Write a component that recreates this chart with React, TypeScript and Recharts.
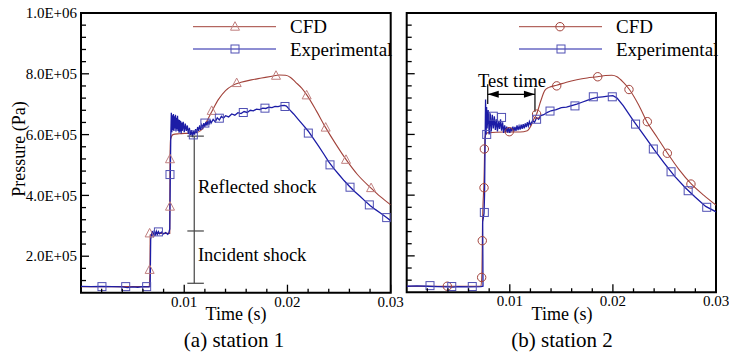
import React from 'react';
import {
  ComposedChart,
  Line,
  XAxis,
  YAxis,
  ReferenceArea,
  ReferenceLine,
  ReferenceDot,
  Legend,
} from 'recharts';

const FONT = '"Liberation Serif", "Times New Roman", serif';
const BLUE = '#1c1ca6';
const BROWN = '#a2433b';
const TRI = '#c07f7f';
const SQ = '#5050b4';

// ---------- data: [time (s), pressure (Pa)] ----------
const leftExp: [number, number][] = [
  [0, 101000], [0.001, 100000], [0.002, 101000], [0.003, 100000], [0.004, 99000], [0.0045, 97000],
  [0.005, 99000], [0.0055, 98000], [0.006, 100000], [0.0066, 99000], [0.0067, 100000], [0.00675, 255000],
  [0.0069, 283000], [0.007, 262000], [0.0071, 285000], [0.0072, 268000], [0.0073, 282000], [0.0074, 272000],
  [0.0075, 281000], [0.0076, 274000], [0.0078, 279000], [0.008, 273000], [0.0082, 278000], [0.0084, 272000],
  [0.0085, 276000], [0.0086, 290000], [0.00865, 470000], [0.0087, 600000], [0.00875, 672000], [0.0088, 608000],
  [0.00885, 664000], [0.0089, 615000], [0.00895, 668000], [0.009, 612000], [0.00905, 660000], [0.0091, 620000],
  [0.00915, 665000], [0.0092, 610000], [0.00925, 655000], [0.0093, 618000], [0.00935, 662000], [0.0094, 612000],
  [0.00945, 650000], [0.0095, 606000], [0.00955, 648000], [0.0096, 610000], [0.00965, 645000], [0.0097, 604000],
  [0.00975, 640000], [0.0098, 612000], [0.0099, 642000], [0.01, 608000], [0.0101, 636000], [0.0102, 612000],
  [0.0103, 630000], [0.0104, 602000], [0.0105, 622000], [0.0106, 598000], [0.0107, 615000], [0.0108, 592000],
  [0.0109, 612000], [0.011, 600000], [0.0111, 618000], [0.0112, 605000], [0.0113, 625000], [0.0114, 612000],
  [0.0115, 630000], [0.0116, 616000], [0.0117, 632000], [0.0118, 622000], [0.0119, 638000], [0.012, 626000],
  [0.0121, 642000], [0.0122, 630000], [0.0123, 645000], [0.0124, 633000], [0.0125, 648000], [0.0126, 638000],
  [0.0128, 650000], [0.013, 642000], [0.0132, 655000], [0.0134, 648000], [0.0136, 660000], [0.0138, 654000],
  [0.014, 662000], [0.0143, 658000], [0.0146, 668000], [0.0149, 664000], [0.0152, 672000], [0.0155, 669000],
  [0.0158, 676000], [0.0161, 673000], [0.0164, 680000], [0.0167, 678000], [0.017, 684000], [0.0173, 682000],
  [0.0176, 687000], [0.0179, 686000], [0.0182, 690000], [0.0185, 689000], [0.0188, 693000], [0.0191, 692000],
  [0.0194, 695000], [0.0197, 696000], [0.0199, 694000], [0.0202, 682000], [0.0206, 668000], [0.021, 652000],
  [0.0215, 632000], [0.022, 612000], [0.0225, 588000], [0.023, 563000], [0.0235, 537000], [0.024, 510000],
  [0.0245, 488000], [0.025, 468000], [0.0255, 448000], [0.026, 430000], [0.0265, 413000], [0.027, 398000],
  [0.0275, 382000], [0.028, 367000], [0.0285, 354000], [0.029, 342000], [0.0295, 330000], [0.03, 317000],
];

const leftCfd: [number, number][] = [
  [0, 100000], [0.0066, 100000], [0.00668, 150000], [0.0067, 270000], [0.0069, 272000], [0.0072, 275000],
  [0.0086, 275000], [0.00862, 520000], [0.00868, 585000], [0.0089, 600000], [0.0095, 603000], [0.0105, 605000],
  [0.0113, 608000], [0.0118, 620000], [0.0122, 645000], [0.0127, 678000], [0.0133, 715000], [0.014, 745000],
  [0.0147, 762000], [0.0155, 772000], [0.0165, 780000], [0.0175, 786000], [0.0185, 792000], [0.0192, 796000],
  [0.0198, 795000], [0.0203, 788000], [0.0208, 772000], [0.0214, 752000], [0.0219, 729000], [0.0228, 678000],
  [0.0237, 623000], [0.0247, 568000], [0.0257, 517000], [0.0268, 468000], [0.0281, 424000], [0.029, 396000],
  [0.03, 369000],
];

const leftCfdMarks: [number, number][] = [
  [0.00665, 155000], [0.00665, 275000], [0.00862, 363000], [0.00862, 519000], [0.01266, 678000],
  [0.01508, 769500], [0.01889, 793600], [0.02186, 729000], [0.0237, 623000], [0.02567, 517000], [0.0281, 424000],
];

const leftExpMarks: [number, number][] = [
  [0.00203, 100000], [0.00433, 100000], [0.00636, 100000], [0.0075, 280000], [0.00862, 468600],
  [0.01088, 599000], [0.012, 638000], [0.0134, 654000], [0.01572, 672700], [0.01782, 687000],
  [0.01976, 692500], [0.02202, 605000], [0.02412, 500500], [0.02606, 427000], [0.02793, 368800], [0.02961, 327000],
];

const rightExp: [number, number][] = [
  [0, 100000], [0.001, 101000], [0.002, 100000], [0.003, 99000], [0.004, 98000], [0.0045, 97000],
  [0.005, 99000], [0.006, 98000], [0.0072, 99000], [0.0074, 100000], [0.00737, 312000], [0.0075, 340000],
  [0.00755, 400000], [0.0076, 560000], [0.00765, 715000], [0.0077, 600000], [0.00775, 690000], [0.0078, 620000],
  [0.0079, 680000], [0.008, 600000], [0.0081, 670000], [0.0082, 610000], [0.0083, 665000], [0.0084, 620000],
  [0.0085, 660000], [0.0086, 615000], [0.0087, 650000], [0.0088, 610000], [0.0089, 645000], [0.009, 618000],
  [0.0091, 650000], [0.0092, 612000], [0.0093, 640000], [0.0094, 605000], [0.0095, 630000], [0.0096, 608000],
  [0.0097, 626000], [0.0098, 606000], [0.0099, 624000], [0.01, 605000], [0.0101, 622000], [0.0102, 610000],
  [0.0103, 626000], [0.0104, 610000], [0.0105, 625000], [0.0106, 612000], [0.0107, 630000], [0.0108, 614000],
  [0.0109, 628000], [0.011, 616000], [0.0111, 632000], [0.0112, 618000], [0.0113, 634000], [0.0114, 620000],
  [0.0115, 636000], [0.0116, 624000], [0.0117, 640000], [0.0118, 628000], [0.0119, 642000], [0.012, 632000],
  [0.0122, 645000], [0.0124, 640000], [0.0126, 655000], [0.0128, 650000], [0.013, 662000], [0.0133, 665000],
  [0.0136, 672000], [0.014, 678000], [0.0145, 682000], [0.015, 688000], [0.0155, 690000], [0.016, 695000],
  [0.0165, 700000], [0.017, 706000], [0.0175, 712000], [0.018, 718000], [0.0185, 722000], [0.019, 724000],
  [0.0195, 726000], [0.02, 728000], [0.0204, 720000], [0.021, 695000], [0.022, 645000], [0.023, 598000],
  [0.024, 550000], [0.025, 505000], [0.026, 462000], [0.027, 425000], [0.028, 393000], [0.029, 363000],
  [0.03, 345000],
];

const rightCfd: [number, number][] = [
  [0, 100000], [0.0072, 100000], [0.0073, 150000], [0.00735, 300000], [0.0075, 450000], [0.0076, 590000],
  [0.0078, 605000], [0.0095, 608000], [0.011, 608000], [0.0117, 612000], [0.012, 625000], [0.0123, 648000],
  [0.0126, 667000], [0.013, 710000], [0.0134, 745000], [0.0138, 755000], [0.01455, 762000], [0.0155, 772000],
  [0.0165, 780000], [0.0175, 786000], [0.0185, 790000], [0.0193, 794000], [0.0199, 795000], [0.0204, 790000],
  [0.021, 772000], [0.0216, 748000], [0.0225, 697000], [0.0233, 642000], [0.0243, 590000], [0.0253, 538000],
  [0.0264, 485000], [0.0276, 437000], [0.0288, 400000], [0.03, 367000],
];

const rightCfdMarks: [number, number][] = [
  [0.00394, 100000], [0.00727, 129000], [0.00733, 250000], [0.0075, 424500], [0.00753, 552000],
  [0.00995, 609000], [0.0126, 667000], [0.01455, 760000], [0.01853, 790000], [0.02156, 748000],
  [0.02334, 642000], [0.02528, 538000], [0.02757, 436500],
];

const rightExpMarks: [number, number][] = [
  [0.00226, 102000], [0.00437, 99000], [0.00636, 99000], [0.00753, 343000], [0.00776, 600000],
  [0.0084, 660000], [0.0092, 656000], [0.0126, 650000], [0.0139, 677000], [0.01632, 694000],
  [0.0181, 724000], [0.01994, 724000], [0.0222, 634000], [0.02392, 552000], [0.02564, 477000],
  [0.0273, 414600], [0.0291, 360000],
];

const xTicks = [0.002, 0.004, 0.006, 0.008, 0.01, 0.012, 0.014, 0.016, 0.018, 0.02, 0.022, 0.024, 0.026, 0.028, 0.03];
const xLabels = ['0.01', '0.02', '0.03'];
const yTicks = [
  120000, 160000, 200000, 240000, 280000, 320000, 360000, 400000, 440000, 480000, 520000, 560000, 600000,
  640000, 680000, 720000, 760000, 800000, 840000, 880000, 920000, 960000, 1000000,
];
const yLabels: Record<number, string> = {
  200000: '2.0E+05', 400000: '4.0E+05', 600000: '6.0E+05', 800000: '8.0E+05', 1000000: '1.0E+06',
};

const toPts = (arr: [number, number][]) => arr.map(([t, p]) => ({ t, p }));

// ---------- custom ticks ----------
const XTick = (props: any) => {
  const { x, y, payload } = props;
  const v = payload.value as number;
  const label = v.toFixed(2);
  const major = xLabels.includes(label) && Math.abs(v * 100 - Math.round(v * 100)) < 1e-6;
  return (
    <g>
      <line x1={x} x2={x} y1={y} y2={y - (major ? 8 : 4)} stroke="#000" strokeWidth={1.3} />
      {major && (
        <text x={x} y={y + 14} textAnchor="middle" fontSize={15} fontFamily={FONT} fill="#000">
          {label}
        </text>
      )}
    </g>
  );
};

const makeYTick = (showLabel: boolean) => (props: any) => {
  const { x, y, payload } = props;
  const v = payload.value as number;
  const label = yLabels[v];
  const major = !!label;
  return (
    <g>
      <line x1={x} x2={x + (major ? 8 : 5)} y1={y} y2={y} stroke="#000" strokeWidth={1.3} />
      {major && showLabel && (
        <text x={x - 4} y={y} dy="0.35em" textAnchor="end" fontSize={15} fontFamily={FONT} fill="#000">
          {label}
        </text>
      )}
    </g>
  );
};

// ---------- markers ----------
const triDot = (props: any) => {
  const { cx, cy, index } = props;
  if (cx == null || cy == null) return <g key={`t${index}`} />;
  return (
    <polygon
      key={`t${index}`}
      points={`${cx},${cy - 5} ${cx - 4.5},${cy + 3.5} ${cx + 4.5},${cy + 3.5}`}
      fill="none"
      stroke={TRI}
      strokeWidth={1}
    />
  );
};
const sqDot = (props: any) => {
  const { cx, cy, index } = props;
  if (cx == null || cy == null) return <g key={`s${index}`} />;
  return <rect key={`s${index}`} x={cx - 4} y={cy - 4} width={8} height={8} fill="none" stroke={SQ} strokeWidth={1} />;
};
const circDot = (props: any) => {
  const { cx, cy, index } = props;
  if (cx == null || cy == null) return <g key={`c${index}`} />;
  return <circle key={`c${index}`} cx={cx} cy={cy} r={4.2} fill="none" stroke={BROWN} strokeWidth={1} />;
};

// ---------- legend ----------
const makeLegend = (marker: 'tri' | 'circ') => () => (
  <svg width={210} height={50} style={{ overflow: 'visible' }}>
    <line x1={7} x2={90} y1={14.7} y2={14.7} stroke={BROWN} strokeWidth={1} />
    {marker === 'tri'
      ? triDot({ cx: 49, cy: 14.7, index: 0 })
      : circDot({ cx: 48, cy: 14.7, index: 0 })}
    <text x={104} y={14.7} dy="0.35em" fontSize={19} fontFamily={FONT} fill="#000">CFD</text>
    <line x1={7} x2={90} y1={37} y2={37} stroke={BLUE} strokeWidth={1} />
    {sqDot({ cx: 49, cy: 37, index: 1 })}
    <text x={104} y={37} dy="0.35em" fontSize={19} fontFamily={FONT} fill="#000">Experimental</text>
  </svg>
);

const textShape = (text: string, size: number, anchor: 'start' | 'middle') => (props: any) => (
  <text x={props.cx} y={props.cy} dy="0.35em" textAnchor={anchor} fontSize={size} fontFamily={FONT} fill="#000">
    {text}
  </text>
);

const arrowHead = (dir: 'left' | 'right') => (props: any) => {
  const { cx, cy } = props;
  const s = dir === 'left' ? 1 : -1;
  return <polygon points={`${cx},${cy} ${cx + s * 11},${cy - 3.5} ${cx + s * 11},${cy + 3.5}`} fill="#000" />;
};

const Y_DOMAIN: [number, number] = [80000, 1000000];
const X_DOMAIN: [number, number] = [0, 0.03];

type PanelProps = {
  width: number;
  margin: { top: number; right: number; bottom: number; left: number };
  yWidth: number;
  showYLabels: boolean;
  cfd: [number, number][];
  cfdMarks: [number, number][];
  exp: [number, number][];
  expMarks: [number, number][];
  cfdMarker: 'tri' | 'circ';
  legendLeft: number;
  children?: React.ReactNode;
};

const Panel = (p: PanelProps) => (
  <ComposedChart width={p.width} height={352} margin={p.margin}>
    <XAxis
      dataKey="t"
      type="number"
      domain={X_DOMAIN}
      allowDataOverflow
      ticks={xTicks}
      interval={0}
      tickSize={0}
      tickMargin={0}
      tickLine={false}
      axisLine={false}
      height={30}
      tick={XTick}
    />
    <YAxis
      type="number"
      domain={Y_DOMAIN}
      allowDataOverflow
      ticks={yTicks}
      interval={0}
      tickSize={0}
      tickMargin={0}
      tickLine={false}
      axisLine={false}
      width={p.yWidth}
      tick={makeYTick(p.showYLabels)}
    />
    <Line
      data={toPts(p.cfd)}
      dataKey="p"
      type="monotone"
      stroke={BROWN}
      strokeWidth={1.1}
      dot={false}
      activeDot={false}
      isAnimationActive={false}
    />
    <Line
      data={toPts(p.exp)}
      dataKey="p"
      type="linear"
      stroke={BLUE}
      strokeWidth={1.3}
      dot={false}
      activeDot={false}
      isAnimationActive={false}
    />
    <Line
      data={toPts(p.cfdMarks)}
      dataKey="p"
      stroke="none"
      dot={p.cfdMarker === 'tri' ? triDot : circDot}
      activeDot={false}
      isAnimationActive={false}
    />
    <Line
      data={toPts(p.expMarks)}
      dataKey="p"
      stroke="none"
      dot={sqDot}
      activeDot={false}
      isAnimationActive={false}
    />
    {p.children}
    <ReferenceArea
      x1={0}
      x2={0.03}
      y1={80000}
      y2={1000000}
      fill="none"
      stroke="#000"
      strokeWidth={2}
      ifOverflow="visible"
    />
    <Legend
      layout="horizontal"
      verticalAlign="middle"
      align="center"
      content={makeLegend(p.cfdMarker)}
      wrapperStyle={{ position: 'absolute', left: p.legendLeft, top: 12, width: 210, height: 50 }}
    />
  </ComposedChart>
);

export default function App() {
  return (
    <div style={{ position: 'absolute', left: 0, top: 0, width: 729, height: 352, background: '#fff' }}>
      <div style={{ position: 'absolute', left: 0, top: 0 }}>
        <Panel
          width={406}
          margin={{ top: 13, right: 15.3, bottom: 29.3, left: 21 }}
          yWidth={60}
          showYLabels
          cfd={leftCfd}
          cfdMarks={leftCfdMarks}
          exp={leftExp}
          expMarks={leftExpMarks}
          cfdMarker="tri"
          legendLeft={185.7}
        >
          <ReferenceLine segment={[{ x: 0.01097, y: 111000 }, { x: 0.01097, y: 595000 }]} stroke="#444" strokeWidth={1.2} ifOverflow="visible" />
          <ReferenceLine segment={[{ x: 0.0103, y: 595000 }, { x: 0.0119, y: 595000 }]} stroke="#444" strokeWidth={1.2} ifOverflow="visible" />
          <ReferenceLine segment={[{ x: 0.0103, y: 283000 }, { x: 0.0119, y: 283000 }]} stroke="#444" strokeWidth={1.2} ifOverflow="visible" />
          <ReferenceLine segment={[{ x: 0.0103, y: 111000 }, { x: 0.0119, y: 111000 }]} stroke="#444" strokeWidth={1.2} ifOverflow="visible" />
          <ReferenceDot x={0.01133} y={428000} r={0} ifOverflow="visible" shape={textShape('Reflected shock', 18.5, 'start')} />
          <ReferenceDot x={0.01133} y={204000} r={0} ifOverflow="visible" shape={textShape('Incident shock', 18.5, 'start')} />
        </Panel>
      </div>
      <div style={{ position: 'absolute', left: 396, top: 0 }}>
        <Panel
          width={333}
          margin={{ top: 13, right: 13, bottom: 29.7, left: 0.7 }}
          yWidth={10}
          showYLabels={false}
          cfd={rightCfd}
          cfdMarks={rightCfdMarks}
          exp={rightExp}
          expMarks={rightExpMarks}
          cfdMarker="circ"
          legendLeft={116}
        >
          <ReferenceLine segment={[{ x: 0.00786, y: 732000 }, { x: 0.01244, y: 732000 }]} stroke="#000" strokeWidth={1.2} ifOverflow="visible" />
          <ReferenceLine segment={[{ x: 0.00786, y: 700000 }, { x: 0.00786, y: 765000 }]} stroke="#000" strokeWidth={1.2} ifOverflow="visible" />
          <ReferenceLine segment={[{ x: 0.01244, y: 675000 }, { x: 0.01244, y: 752000 }]} stroke="#000" strokeWidth={1.2} ifOverflow="visible" />
          <ReferenceDot x={0.00786} y={732000} r={0} ifOverflow="visible" shape={arrowHead('left')} />
          <ReferenceDot x={0.01244} y={732000} r={0} ifOverflow="visible" shape={arrowHead('right')} />
          <ReferenceDot x={0.01021} y={779000} r={0} ifOverflow="visible" shape={textShape('Test time', 18.5, 'middle')} />
        </Panel>
      </div>
      <svg
        width={729}
        height={352}
        style={{ position: 'absolute', left: 0, top: 0, pointerEvents: 'none' }}
      >
        <text
          x={19}
          y={149}
          dy="0.35em"
          textAnchor="middle"
          fontSize={18}
          fontFamily={FONT}
          transform="rotate(-90 19 149)"
        >
          Pressure (Pa)
        </text>
        <text x={236} y={314} dy="0.35em" textAnchor="middle" fontSize={18} fontFamily={FONT}>Time (s)</text>
        <text x={562} y={314} dy="0.35em" textAnchor="middle" fontSize={18} fontFamily={FONT}>Time (s)</text>
        <text x={234} y={340} dy="0.35em" textAnchor="middle" fontSize={21} fontFamily={FONT}>(a) station 1</text>
        <text x={562} y={340} dy="0.35em" textAnchor="middle" fontSize={21} fontFamily={FONT}>(b) station 2</text>
      </svg>
    </div>
  );
}
